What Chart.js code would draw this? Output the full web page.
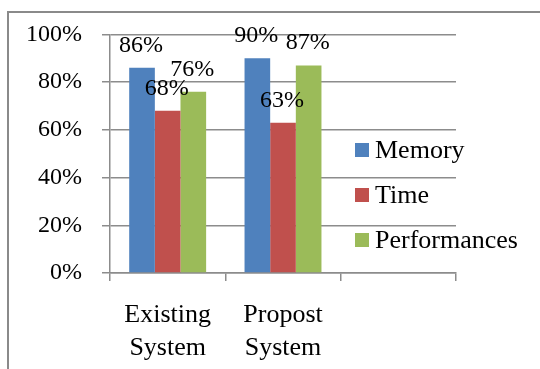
<!DOCTYPE html>
<html>
<head>
<meta charset="utf-8">
<script src="https://cdn.jsdelivr.net/npm/chart.js@4/dist/chart.umd.min.js"></script>
<style>
  html, body { margin: 0; padding: 0; background: #fff; }
  #wrap { width: 540px; height: 369px; position: relative; }
</style>
</head>
<body>
<div id="wrap"><canvas id="chart" width="540" height="369"></canvas></div>
<script>
// data
const categories = [['Existing', 'System'], ['Propost', 'System'], ''];
const seriesNames = ['Memory', 'Time', 'Performances'];
const memory = [86, 90, null];
const time = [68, 63, null];
const performances = [76, 87, null];
const yTicks = [0, 20, 40, 60, 80, 100];

const colors = ['#4F81BD', '#C0504D', '#9BBB59'];
const FONT = "'Liberation Serif', 'Times New Roman', serif";
const GRID = '#8c8c8c';

// percent labels above each bar
const barLabels = {
  id: 'barLabels',
  afterDatasetsDraw(chart) {
    const ctx = chart.ctx;
    ctx.save();
    ctx.font = '24px ' + FONT;
    ctx.fillStyle = '#000';
    ctx.textAlign = 'center';
    ctx.textBaseline = 'alphabetic';
    chart.data.datasets.forEach((ds, i) => {
      chart.getDatasetMeta(i).data.forEach((bar, j) => {
        const v = ds.data[j];
        if (v == null) return;
        ctx.fillText(v + '%', bar.x - 1, bar.y - 16);
      });
    });
    ctx.restore();
  }
};

// legend drawn over the right part of the plot, like the original
const sideLegend = {
  id: 'sideLegend',
  afterDraw(chart) {
    const ctx = chart.ctx;
    ctx.save();
    ctx.font = '26px ' + FONT;
    ctx.textBaseline = 'middle';
    chart.data.datasets.forEach((ds, i) => {
      const y = 150 + i * 45;
      ctx.fillStyle = ds.backgroundColor;
      ctx.fillRect(355, y - 7, 14, 14);
      ctx.fillStyle = '#000';
      ctx.fillText(ds.label, 375, y + 1);
    });
    ctx.restore();
  }
};

// outer frame (left and top edges visible)
const frame = {
  id: 'frame',
  beforeDraw(chart) {
    const ctx = chart.ctx;
    ctx.save();
    ctx.fillStyle = '#fff';
    ctx.fillRect(0, 0, chart.width, chart.height);
    ctx.strokeStyle = '#8a8a8a';
    ctx.lineWidth = 2;
    ctx.beginPath();
    ctx.moveTo(8, 369);
    ctx.lineTo(8, 12);
    ctx.lineTo(540, 12);
    ctx.stroke();
    ctx.restore();
  }
};

const chart = new Chart(document.getElementById('chart'), {
  type: 'bar',
  data: {
    labels: categories,
    datasets: [
      { label: seriesNames[0], data: memory, backgroundColor: colors[0] },
      { label: seriesNames[1], data: time, backgroundColor: colors[1] },
      { label: seriesNames[2], data: performances, backgroundColor: colors[2] }
    ]
  },
  options: {
    responsive: false,
    animation: false,
    layout: { padding: { top: 30, right: 84, left: 0, bottom: 0 } },
    datasets: { bar: { categoryPercentage: 0.667, barPercentage: 1 } },
    plugins: { legend: { display: false }, tooltip: { enabled: false } },
    scales: {
      x: {
        grid: { offset: true, drawOnChartArea: false, drawTicks: true, tickLength: 8, color: GRID, lineWidth: 1.5 },
        border: { display: true, color: GRID, width: 1.5 },
        ticks: { color: '#000', font: { family: FONT, size: 26, lineHeight: 1.25 }, padding: 18, maxRotation: 0, autoSkip: false },
        afterFit(scale) { scale.height = 96; }
      },
      y: {
        min: 0, max: 100,
        afterBuildTicks(scale) { scale.ticks = yTicks.map(v => ({ value: v })); },
        grid: { color: GRID, lineWidth: 1.5, tickLength: 8 },
        border: { display: true, color: GRID, width: 1.5 },
        ticks: { color: '#000', font: { family: FONT, size: 24 }, padding: 20, callback: v => v + '%' },
        afterFit(scale) { scale.width = 110; }
      }
    }
  },
  plugins: [frame, barLabels, sideLegend]
});
</script>
</body>
</html>
